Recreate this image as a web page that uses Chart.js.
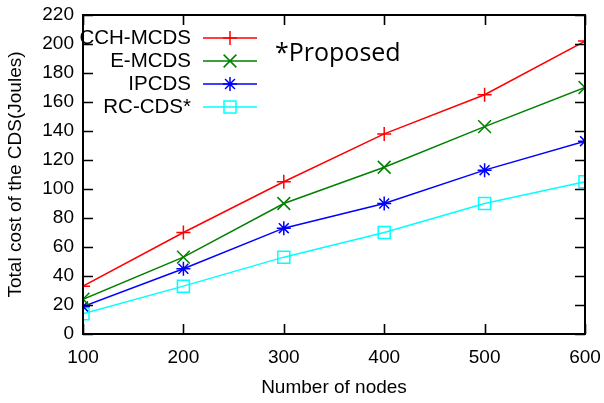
<!DOCTYPE html>
<html>
<head>
<meta charset="utf-8">
<script src="https://cdn.jsdelivr.net/npm/chart.js@4"></script>
<style>
  html, body { margin: 0; padding: 0; background: #fff; }
  #wrap { width: 604px; height: 403px; }
</style>
</head>
<body>
<div id="wrap"><canvas id="mycanvas" width="604" height="403"></canvas></div>
<script>
var nodes = [100, 200, 300, 400, 500, 600];
var cchMcds = [33, 70, 105, 138, 165, 202];
var eMcds = [24, 53, 90, 115, 143, 170];
var ipcds = [19, 45, 73, 90, 113, 133];
var rcCds = [14, 33, 53, 70, 90, 105];
var seriesNames = ['CCH-MCDS', 'E-MCDS', 'IPCDS', 'RC-CDS*'];

var FONT = '"Liberation Sans", Arial, sans-serif';

function pts(vals) {
  var out = [];
  for (var i in vals) out.push({x: nodes[i], y: vals[i]});
  return out;
}

// gnuplot-like frame with inward ticks on all four sides
var framePlugin = {
  id: 'frame',
  afterDraw: function(chart) {
    var c = chart.ctx, a = chart.chartArea;
    var xs = chart.scales.x, ys = chart.scales.y;
    c.save();
    c.strokeStyle = '#000';
    c.lineWidth = 1.6;
    c.beginPath();
    xs.ticks.forEach(function(t) {
      var px = Math.round(xs.getPixelForValue(t.value)) + 0.5;
      c.moveTo(px, a.bottom); c.lineTo(px, a.bottom - 10);
      c.moveTo(px, a.top); c.lineTo(px, a.top + 10);
    });
    ys.ticks.forEach(function(t) {
      var py = Math.round(ys.getPixelForValue(t.value)) + 0.5;
      c.moveTo(a.left, py); c.lineTo(a.left + 10, py);
      c.moveTo(a.right, py); c.lineTo(a.right - 10, py);
    });
    c.stroke();
    c.lineWidth = 2;
    c.strokeRect(a.left, a.top, a.right - a.left, a.bottom - a.top);
    c.restore();
  }
};

// legend inside the plot, text right-aligned then line + marker
var keyPlugin = {
  id: 'key',
  afterDatasetsDraw: function(chart) {
    var c = chart.ctx;
    var rows = [38, 61, 84, 107];
    c.save();
    chart.data.datasets.forEach(function(ds, i) {
      var y = rows[i];
      c.fillStyle = '#000';
      c.font = '20.5px ' + FONT;
      c.textAlign = 'right';
      c.textBaseline = 'middle';
      c.fillText(ds.label, 191, y);
      c.strokeStyle = ds.borderColor;
      c.lineWidth = 1.5;
      c.beginPath();
      c.moveTo(203, y); c.lineTo(257, y);
      c.stroke();
      c.fillStyle = 'rgba(0,0,0,0)';
      Chart.helpers.drawPoint(c, {
        pointStyle: ds.pointStyle, radius: ds.pointRadius, borderWidth: 1.5,
        rotation: 0
      }, 230, y);
    });
    c.fillStyle = '#000';
    c.font = '25px "Open Sans", sans-serif';
    c.textAlign = 'left';
    c.textBaseline = 'middle';
    c.fillText('*Proposed', 275, 54);
    c.restore();
  }
};

function mk(label, vals, color, style, r) {
  return {
    label: label,
    data: pts(vals),
    borderColor: color,
    backgroundColor: color,
    pointStyle: style,
    pointRadius: r,
    pointBorderWidth: 1.5,
    borderWidth: 1.5,
    pointBorderColor: color,
    pointBackgroundColor: 'rgba(0,0,0,0)',
    tension: 0,
    fill: false
  };
}

var ctx = document.getElementById('mycanvas');
var lineGraph = new Chart(ctx, {
  type: 'line',
  data: {
    datasets: [
      mk(seriesNames[0], cchMcds, '#ff0000', 'cross', 7),
      mk(seriesNames[1], eMcds, '#008000', 'crossRot', 9),
      mk(seriesNames[2], ipcds, '#0000ff', 'star', 7),
      mk(seriesNames[3], rcCds, '#00ffff', 'rect', 8.5)
    ]
  },
  options: {
    responsive: false,
    animation: false,
    layout: { padding: { left: 0, right: 19, top: 15, bottom: 0 } },
    plugins: { legend: { display: false }, tooltip: { enabled: false } },
    scales: {
      x: {
        type: 'linear', min: 100, max: 600,
        grid: { display: false, drawTicks: false },
        border: { display: false },
        ticks: { stepSize: 100, color: '#000', padding: 12,
          font: { family: FONT, size: 19 } },
        title: { display: true, text: 'Number of nodes', color: '#000', padding: { top: 10 },
          font: { family: FONT, size: 19 } },
        afterFit: function(s) { s.height = 69; s.paddingLeft = 0; s.paddingRight = 0; }
      },
      y: {
        min: 0, max: 220,
        grid: { display: false, drawTicks: false },
        border: { display: false },
        ticks: { stepSize: 20, color: '#000', padding: 9,
          font: { family: FONT, size: 19 } },
        title: { display: true, text: 'Total cost of the CDS(Joules)', color: '#000', padding: { top: 4, bottom: 0 },
          font: { family: FONT, size: 19 } },
        afterFit: function(s) { s.width = 83; s.paddingTop = 0; s.paddingBottom = 0; }
      }
    }
  },
  plugins: [framePlugin, keyPlugin]
});
</script>
</body>
</html>
